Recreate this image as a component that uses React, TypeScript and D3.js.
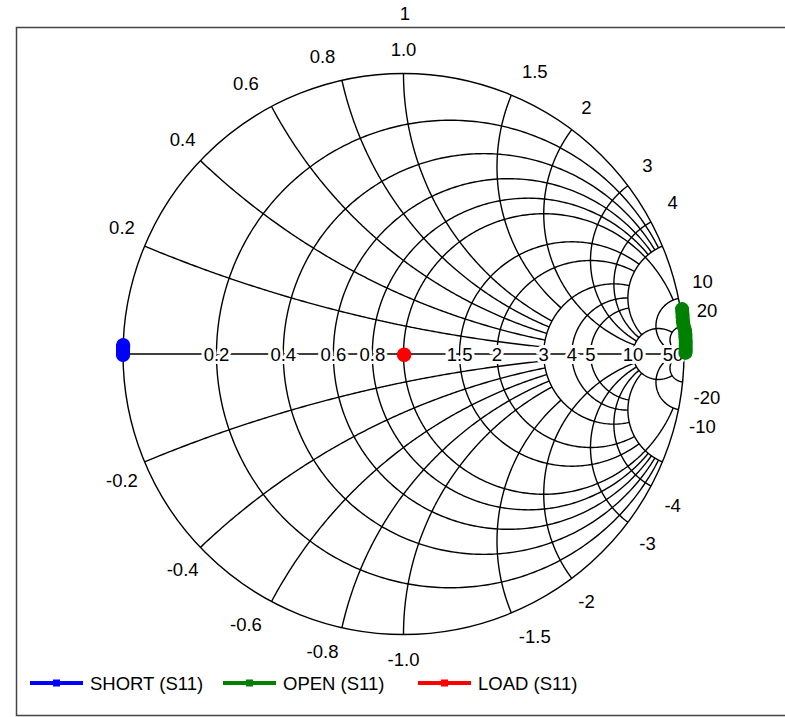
import React, { useEffect, useRef } from "react";
import * as d3 from "d3";

// normalised resistance circles and where each one stops (max |x|)
const resistances = [0.2, 0.4, 0.6, 0.8, 1, 1.5, 2, 3, 4, 5, 10, 50];
const resistanceLabels = ["0.2", "0.4", "0.6", "0.8", "", "1.5", "2", "3", "4", "5", "10", "50"];
const resistanceReach = [5, 5, 5, 5, 10, 5, 5, 5, 5, 5, 20, 20];

// normalised reactance arcs and where each one stops (max r)
const reactances = [0.2, 0.4, 0.6, 0.8, 1, 1.5, 2, 3, 4, 5, 10, 20];
const reactanceLabels = ["0.2", "0.4", "0.6", "0.8", "1.0", "1.5", "2", "3", "4", "", "10", "20"];
const reactanceReach = [3, 3, 3, 3, 3, 3, 10, 10, 10, 10, 50, 50];

// measured reflection coefficients [re, im]
const shortS11 = [
  [-0.9994, 0.032], [-0.9995, 0.028], [-0.9996, 0.024], [-0.9997, 0.02], [-0.9998, 0.016],
  [-0.9998, 0.012], [-0.9999, 0.008], [-0.9999, 0.004], [-0.9999, 0.0], [-0.9999, -0.004],
];
const openS11 = [
  [0.993, 0.16], [0.994, 0.15], [0.995, 0.14], [0.995, 0.13], [0.996, 0.12], [0.997, 0.11],
  [0.999, 0.1], [1.002, 0.09], [1.004, 0.08], [1.005, 0.07], [1.005, 0.06], [1.006, 0.05],
  [1.006, 0.04], [1.006, 0.03], [1.006, 0.02], [1.006, 0.01], [1.005, 0.004],
];
const loadS11 = [[0.002, -0.004], [0.003, -0.003], [0.002, -0.002]];

const series = [
  { name: "SHORT (S11)", color: "#0000ff", data: shortS11 },
  { name: "OPEN (S11)", color: "#008000", data: openS11 },
  { name: "LOAD (S11)", color: "#ff0000", data: loadS11 },
];

const W = 785, H = 717;
const cx = 403.5, cy = 354, R = 280.5;
const FONT = "'Liberation Sans', Arial, sans-serif";
const FS = 18.5;

// z -> gamma
function gamma(r: number, x: number): [number, number] {
  const dr = (r + 1) * (r + 1) + x * x;
  return [(r * r + x * x - 1) / dr, (2 * x) / dr];
}

export default function App() {
  const ref = useRef<SVGSVGElement>(null);

  useEffect(() => {
    const svg = d3.select(ref.current);
    svg.selectAll("*").remove();

    const sx = d3.scaleLinear().domain([-1, 1]).range([cx - R, cx + R]);
    const sy = d3.scaleLinear().domain([-1, 1]).range([cy + R, cy - R]);
    const line = d3.line<[number, number]>().x(d => sx(d[0])).y(d => sy(d[1]));

    // frame
    svg.append("rect")
      .attr("x", 16.5).attr("y", 27.5).attr("width", 780).attr("height", 688)
      .attr("fill", "white").attr("stroke", "#444").attr("stroke-width", 1.5);

    const grid = svg.append("g").attr("fill", "none").attr("stroke", "black").attr("stroke-width", 1.4);

    // resistance circles
    resistances.forEach((r, i) => {
      const phiMax = Math.atan(resistanceReach[i]);
      [1, -1].forEach(s => {
        const pts = d3.range(0, 201).map(k => gamma(r, s * Math.tan((phiMax * k) / 200)));
        grid.append("path").attr("d", line(pts));
      });
    });

    // reactance arcs
    reactances.forEach((x, i) => {
      const phiMax = Math.atan(reactanceReach[i]);
      [1, -1].forEach(s => {
        const pts = d3.range(0, 201).map(k => gamma(Math.tan((phiMax * k) / 200), s * x));
        grid.append("path").attr("d", line(pts));
      });
    });

    // outer circle and real axis
    grid.append("circle").attr("cx", sx(0)).attr("cy", sy(0)).attr("r", sx(1) - sx(0));
    grid.append("line").attr("x1", sx(-1)).attr("x2", sx(1)).attr("y1", sy(0)).attr("y2", sy(0));

    // real axis labels
    const labels = svg.append("g").attr("font-family", FONT).attr("font-size", FS).attr("fill", "black");
    resistances.forEach((r, i) => {
      if (!resistanceLabels[i]) return;
      labels.append("text")
        .attr("x", sx((r - 1) / (r + 1))).attr("y", sy(0))
        .attr("text-anchor", "middle").attr("dominant-baseline", "central")
        .attr("stroke", "white").attr("stroke-width", 6).attr("paint-order", "stroke")
        .text(resistanceLabels[i]);
    });

    // reactance labels round the rim
    reactances.forEach((x, i) => {
      if (!reactanceLabels[i]) return;
      [1, -1].forEach(s => {
        const [gx, gy] = gamma(0, s * x);
        const a = Math.atan2(gy, gx);
        const c = Math.cos(a), sn = Math.sin(a);
        const rr = 305;
        let px = cx + rr * c;
        let py = cy - rr * sn;
        py -= Math.sign(sn) * (1 - Math.abs(sn)) * 15;
        if (Math.abs(c) > 0.15 && Math.abs(c) < 0.5) px += Math.sign(c) * 14;
        labels.append("text")
          .attr("x", px).attr("y", py)
          .attr("text-anchor", "middle").attr("dominant-baseline", "central")
          .text((s < 0 ? "-" : "") + reactanceLabels[i]);
      });
    });

    labels.append("text").attr("x", 405).attr("y", 13)
      .attr("text-anchor", "middle").attr("dominant-baseline", "central").text("1");

    // data
    series.forEach(se => {
      const g = svg.append("g");
      g.append("path").attr("d", line(se.data as [number, number][]))
        .attr("fill", "none").attr("stroke", se.color).attr("stroke-width", 4);
      g.selectAll("circle").data(se.data).enter().append("circle")
        .attr("cx", d => sx(d[0])).attr("cy", d => sy(d[1])).attr("r", 7).attr("fill", se.color);
    });

    // legend
    const legendX = [30, 223, 418];
    const lg = svg.append("g").attr("font-family", FONT).attr("font-size", FS);
    series.forEach((se, i) => {
      const x0 = legendX[i], y0 = 683;
      lg.append("line").attr("x1", x0).attr("x2", x0 + 53).attr("y1", y0).attr("y2", y0)
        .attr("stroke", se.color).attr("stroke-width", 4);
      lg.append("rect").attr("x", x0 + 23).attr("y", y0 - 3.5).attr("width", 7).attr("height", 7)
        .attr("fill", se.color);
      lg.append("text").attr("x", x0 + 60).attr("y", y0).attr("dominant-baseline", "central")
        .attr("fill", "black").text(se.name);
    });
  }, []);

  return (
    <svg ref={ref} width={W} height={H} style={{ position: "absolute", left: 0, top: 0, background: "white" }} />
  );
}
